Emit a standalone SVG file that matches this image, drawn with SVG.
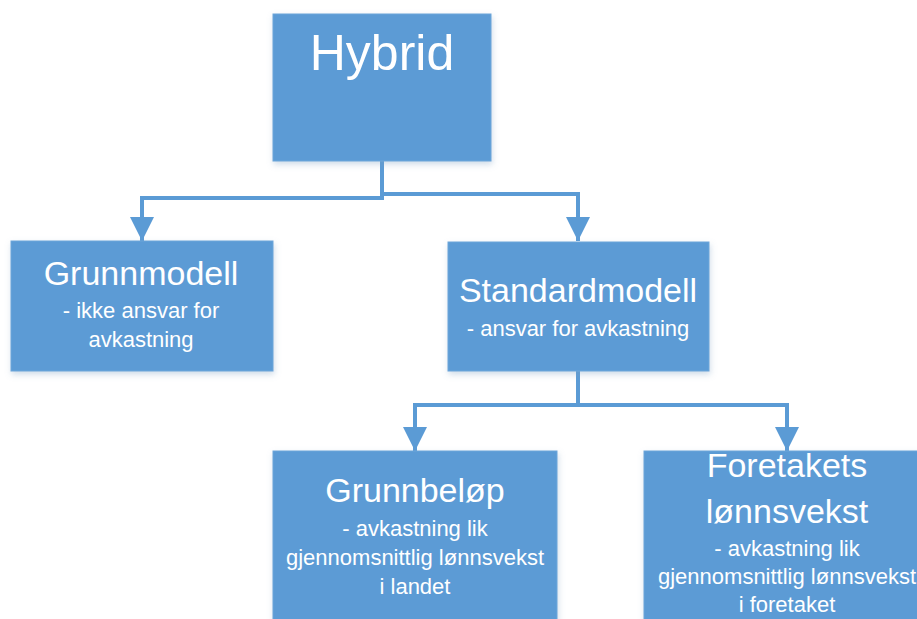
<svg xmlns="http://www.w3.org/2000/svg" width="917" height="619" viewBox="0 0 917 619">
<style>
.box{fill:#5b9bd5;stroke:#6ea6da;stroke-width:1;filter:url(#sh)}
.t{font-family:"Liberation Sans",Arial,sans-serif;fill:#ffffff;text-anchor:middle}
.title{font-size:34px}
.sub{font-size:22px}
.conn{fill:none;stroke:#5b9bd5;stroke-width:4;marker-end:url(#arr)}
</style>
<defs>
<filter id="sh" x="-10%" y="-10%" width="120%" height="130%">
<feDropShadow dx="1" dy="3" stdDeviation="3" flood-color="#7a9cc0" flood-opacity="0.35"/>
</filter>
<marker id="arr" markerUnits="userSpaceOnUse" markerWidth="24" markerHeight="24" refX="24" refY="12" orient="auto" viewBox="0 0 24 24">
<path d="M0,0 L24,12 L0,24 Z" fill="#5b9bd5"/>
</marker>
</defs>
<rect width="917" height="619" fill="#ffffff"/>
<g id="connectors">
<path class="conn" d="M382,161 V198 H142 V241"/>
<path class="conn" d="M382,194 H578 V241"/>
<path class="conn" d="M578,371 V405 H415 V451"/>
<path class="conn" d="M578,405 H787 V451"/>
</g>
<g id="hybrid">
<rect class="box" x="273" y="14" width="218" height="147"/>
<text class="t" x="382" y="70" font-size="50">Hybrid</text>
</g>
<g id="grunnmodell">
<rect class="box" x="11" y="241" width="262" height="130"/>
<text class="t title" x="141" y="285">Grunnmodell</text>
<text class="t sub" x="141" y="318">- ikke ansvar for</text>
<text class="t sub" x="141" y="347">avkastning</text>
</g>
<g id="standardmodell">
<rect class="box" x="448" y="242" width="261" height="129"/>
<text class="t title" x="578" y="302">Standardmodell</text>
<text class="t sub" x="578" y="336">- ansvar for avkastning</text>
</g>
<g id="grunnbelop">
<rect class="box" x="273" y="451" width="284" height="180"/>
<text class="t title" x="415" y="502">Grunnbeløp</text>
<text class="t sub" x="415" y="536">- avkastning lik</text>
<text class="t sub" x="415" y="565">gjennomsnittlig lønnsvekst</text>
<text class="t sub" x="415" y="594">i landet</text>
</g>
<g id="foretakets">
<rect class="box" x="644" y="451" width="286" height="180"/>
<text class="t title" x="787" y="477">Foretakets</text>
<text class="t title" x="787" y="523">lønnsvekst</text>
<text class="t sub" x="787" y="556">- avkastning lik</text>
<text class="t sub" x="787" y="584">gjennomsnittlig lønnsvekst</text>
<text class="t sub" x="787" y="612">i foretaket</text>
</g>
</svg>
